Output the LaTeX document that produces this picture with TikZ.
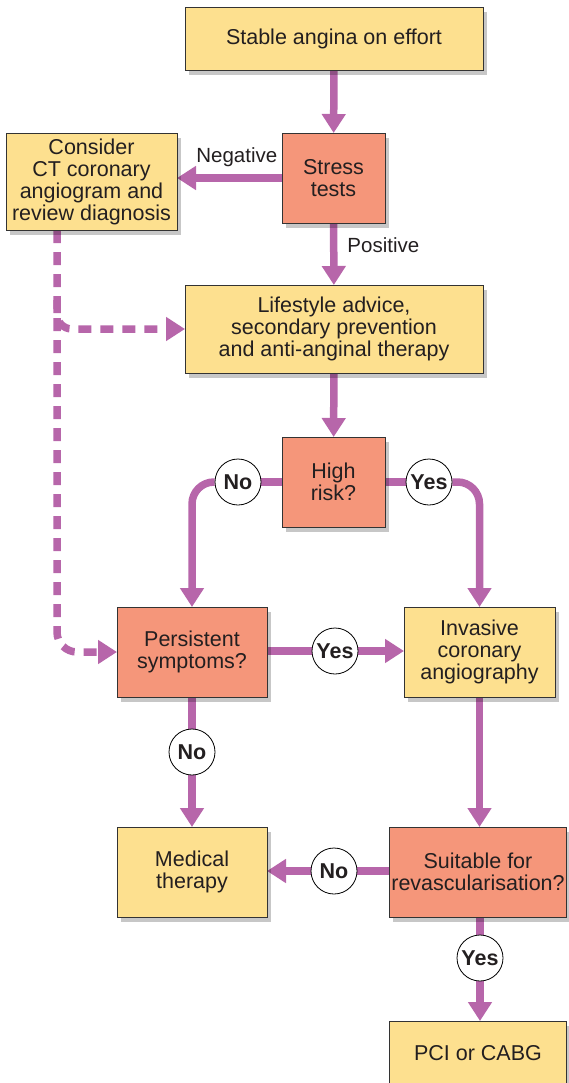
\documentclass[tikz,border=0pt]{standalone}
\usepackage{fontspec}
\setmainfont{Liberation Sans}
\usetikzlibrary{arrows.meta,shadows,calc}
\definecolor{arr}{RGB}{183,102,170}
\definecolor{yel}{RGB}{253,224,143}
\definecolor{sal}{RGB}{245,150,122}
\definecolor{txt}{RGB}{35,31,32}
\pgfdeclarelayer{bg}
\pgfsetlayers{bg,main}
\begin{document}
\begin{tikzpicture}[x=1pt,y=-1pt,
  box/.style={draw=black!80, line width=0.9pt, align=center, inner sep=2pt, outer sep=0pt,
    font=\fontsize{21.5}{22}\selectfont, text=txt,
    drop shadow={shadow xshift=4pt, shadow yshift=-5pt, opacity=0.22, fill=black}},
  ybox/.style={box, fill=yel},
  sbox/.style={box, fill=sal},
  dec/.style={circle, draw=black, line width=0.8pt, fill=white, minimum size=46pt, inner sep=0pt,
    font=\fontsize{21.5}{22}\selectfont\bfseries, text=txt},
  conn/.style={draw=arr, line width=7.5pt, -{Triangle[width=23pt,length=19pt]}},
  line/.style={draw=arr, line width=7.5pt},
  dconn/.style={conn, dash pattern=on 13pt off 9pt},
  lab/.style={font=\fontsize{20.5}{22}\selectfont, text=txt, inner sep=0pt}
]
\useasboundingbox (0,0) rectangle (568,1083);

\node[ybox, minimum width=298pt, minimum height=63pt] (start) at (334,38.5) {Stable angina on effort};
\node[sbox, minimum width=103pt, minimum height=90pt] (stress) at (333.5,178) {Stress\\tests};
\node[ybox, minimum width=171pt, minimum height=97pt] (ct) at (91.5,181.5) {Consider\\CT coronary\\angiogram and\\review diagnosis};
\node[ybox, minimum width=298pt, minimum height=88pt] (life) at (334,329) {Lifestyle advice,\\secondary prevention\\and anti-anginal therapy};
\node[sbox, minimum width=103pt, minimum height=90pt] (risk) at (333.5,482) {High\\risk?};
\node[sbox, minimum width=150pt, minimum height=90pt] (pers) at (192,652) {Persistent\\symptoms?};
\node[ybox, minimum width=151pt, minimum height=90pt] (inv) at (479.5,652) {Invasive\\coronary\\angiography};
\node[ybox, minimum width=150pt, minimum height=90pt] (med) at (192,872) {Medical\\therapy};
\node[sbox, minimum width=177pt, minimum height=90pt] (suit) at (478,872) {Suitable for\\revascularisation?};
\node[ybox, minimum width=177pt, minimum height=64pt] (pci) at (478,1053) {PCI or CABG};

\node[dec] (n1) at (238,482) {No};
\node[dec] (y1) at (429,482) {Yes};
\node[dec] (y2) at (335,651) {Yes};
\node[dec] (n2) at (192,752) {No};
\node[dec] (n3) at (334,871) {No};
\node[dec] (y3) at (480,958) {Yes};

\begin{pgfonlayer}{bg}
\draw[conn] (start) -- (stress);
\draw[conn] (stress.west) -- node[lab, above=7pt, pos=0.43]{Negative} (stress.west -| ct.east);
\draw[conn] (stress) -- node[lab, right=10pt, pos=0.35]{Positive} (life);
\draw[conn] (life) -- (risk);
\draw[line] (risk.west) -- (n1);
\draw[conn, rounded corners=22pt] (n1.west) -| (pers.north);
\draw[line] (risk.east) -- (y1);
\draw[conn, rounded corners=22pt] (y1.east) -| (inv.north);
\draw[line] (pers.east |- y2) -- (y2);
\draw[conn] (y2) -- (y2 -| inv.west);
\draw[line] (pers) -- (n2);
\draw[conn] (n2) -- (med);
\draw[conn] (inv.south) -- (inv.south |- suit.north);
\draw[line] (suit.west |- n3) -- (n3);
\draw[conn] (n3) -- (n3 -| med.east);
\draw[line] (suit.south -| y3) -- (y3);
\draw[conn] (y3) -- (y3 |- pci.north);
\coordinate (d0) at ($(ct.south west)+(51,0)$);
\coordinate (d1) at ($(d0)+(0,70)$);
\draw[dconn, rounded corners=20pt] (d0) -- (d0 |- pers.west) -- (pers.west);
\draw[dconn, rounded corners=15pt] (d1) |- (life.west);
\end{pgfonlayer}
\end{tikzpicture}
\end{document}
